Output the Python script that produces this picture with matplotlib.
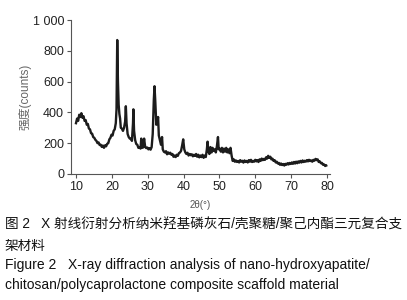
import matplotlib
matplotlib.use("Agg")
import matplotlib.pyplot as plt

# values
two_theta = [10.0, 10.3, 10.6, 10.9, 11.2, 11.5, 11.8, 12.1, 12.4, 12.7, 13.0, 13.3, 13.6, 13.9,
             14.2, 14.5, 14.8, 15.1, 15.4, 15.7, 16.0, 16.3, 16.6, 16.9, 17.2, 17.5, 17.8, 18.1,
             18.4, 18.7, 19.0, 19.3, 19.6, 19.9, 20.2, 20.5, 20.8, 21.1, 21.3, 21.5, 21.7, 21.9,
             22.1, 22.3, 22.5, 22.8, 23.1, 23.4, 23.7, 23.9, 24.1, 24.4, 24.7, 25.0, 25.3, 25.6,
             25.9, 26.0, 26.2, 26.5, 26.8, 27.1, 27.4, 27.7, 28.0, 28.2, 28.4, 28.7, 29.0, 29.3,
             29.6, 29.9, 30.2, 30.5, 30.8, 31.1, 31.4, 31.7, 31.9, 32.1, 32.4, 32.6, 32.9, 33.1,
             33.4, 33.7, 34.0, 34.2, 34.5, 34.8, 35.1, 35.4, 35.7, 36.0, 36.3, 36.6, 36.9, 37.2,
             37.5, 37.8, 38.1, 38.4, 38.7, 39.0, 39.3, 39.6, 39.9, 40.2, 40.5, 40.8, 41.1, 41.4,
             41.7, 42.0, 42.3, 42.6, 42.9, 43.2, 43.5, 43.8, 44.1, 44.4, 44.7, 45.0, 45.3, 45.6,
             45.9, 46.2, 46.5, 46.7, 46.9, 47.2, 47.5, 47.8, 48.1, 48.4, 48.7, 49.0, 49.3, 49.6,
             49.8, 50.1, 50.4, 50.7, 51.0, 51.3, 51.6, 51.9, 52.2, 52.5, 52.8, 53.1, 53.4, 53.7,
             54.0, 54.3, 54.6, 54.9, 55.2, 55.5, 55.8, 56.1, 56.4, 56.7, 57.0, 57.3, 57.6, 57.9,
             58.2, 58.5, 58.8, 59.1, 59.4, 59.7, 60.0, 60.3, 60.6, 60.9, 61.2, 61.5, 61.8, 62.1,
             62.4, 62.7, 63.0, 63.3, 63.6, 63.9, 64.2, 64.5, 64.8, 65.1, 65.4, 65.7, 66.0, 66.3,
             66.6, 66.9, 67.2, 67.5, 67.8, 68.1, 68.4, 68.7, 69.0, 69.3, 69.6, 69.9, 70.2, 70.5,
             70.8, 71.1, 71.4, 71.7, 72.0, 72.3, 72.6, 72.9, 73.2, 73.5, 73.8, 74.1, 74.4, 74.7,
             75.0, 75.3, 75.6, 75.9, 76.2, 76.5, 76.8, 77.1, 77.4, 77.7, 78.0, 78.3, 78.6, 78.9,
             79.2, 79.5, 79.8]
counts = [330, 360, 345, 385, 370, 395, 365, 375, 345, 350, 320, 325, 295, 290,
          265, 262, 240, 235, 222, 215, 200, 205, 188, 190, 176, 185, 170, 186,
          180, 196, 200, 225, 235, 255, 250, 280, 290, 330, 420, 870, 600, 450,
          390, 360, 300, 295, 280, 300, 340, 440, 330, 260, 240, 230, 230, 215,
          330, 420, 280, 220, 195, 190, 170, 175, 165, 230, 170, 172, 230, 175,
          168, 172, 160, 168, 158, 175, 260, 480, 570, 480, 320, 330, 370, 250,
          220, 190, 240, 160, 145, 140, 148, 128, 140, 132, 138, 125, 130, 112,
          120, 110, 125, 118, 135, 140, 150, 185, 225, 160, 140, 130, 138, 120,
          130, 122, 128, 115, 125, 118, 130, 112, 125, 108, 120, 110, 125, 105,
          120, 110, 160, 210, 150, 130, 175, 140, 170, 150, 160, 140, 180, 240,
          160, 165, 145, 170, 140, 165, 145, 170, 140, 160, 135, 170, 120, 85,
          95, 80, 88, 78, 85, 75, 90, 80, 86, 74, 88, 78, 85, 75,
          90, 80, 92, 78, 85, 80, 92, 82, 90, 78, 95, 85, 100, 90,
          98, 92, 108, 100, 118, 105, 112, 95, 100, 85, 90, 75, 80, 68,
          72, 60, 68, 58, 65, 55, 66, 60, 70, 62, 72, 65, 75, 66,
          78, 68, 80, 70, 82, 74, 85, 75, 88, 78, 86, 80, 90, 82,
          92, 84, 88, 80, 92, 86, 98, 90, 95, 78, 82, 70, 72, 60,
          62, 52, 55]

x_ticks = [10, 20, 30, 40, 50, 60, 70, 80]
y_ticks = [0, 200, 400, 600, 800, 1000]
y_tick_labels = ["0", "200", "400", "600", "800", "1 000"]

caption_cn_1 = "图 2   X 射线衍射分析纳米羟基磷灰石/壳聚糖/聚己内酯三元复合支"
caption_cn_2 = "架材料"
caption_en_1 = "Figure 2   X-ray diffraction analysis of nano-hydroxyapatite/"
caption_en_2 = "chitosan/polycaprolactone composite scaffold material"

plt.rcParams['font.family'] = ['Liberation Sans', 'Noto Sans CJK SC', 'DejaVu Sans']

fig = plt.figure(figsize=(4.07, 3.0), dpi=100)
ax = fig.add_axes([0.1744, 0.42, 0.636, 0.5133])

ax.plot(two_theta, counts, color='#1c1c1c', lw=1.7)

ax.set_xlim(8.6, 80.8)
ax.set_ylim(0, 1000)
ax.set_xticks(x_ticks)
ax.set_yticks(y_ticks)
ax.set_yticklabels(y_tick_labels)
ax.tick_params(labelsize=9, length=3, width=0.8, colors='#555555', labelcolor='#222222', pad=2)
for side in ['top', 'right']:
    ax.spines[side].set_visible(False)
for side in ['left', 'bottom']:
    ax.spines[side].set_color('#555555')
    ax.spines[side].set_linewidth(0.8)

ax.set_ylabel("强度(counts)", fontsize=8.5, color='#666666', labelpad=1)
ax.set_xlabel("2θ(°)", fontsize=7, color='#555555', labelpad=5)

fig.text(0.012, 0.25, caption_cn_1, fontsize=9.8, color='#111111', va='center')
fig.text(0.012, 0.18, caption_cn_2, fontsize=9.8, color='#111111', va='center')
fig.text(0.012, 0.117, caption_en_1, fontsize=10, color='#111111', va='center')
fig.text(0.012, 0.05, caption_en_2, fontsize=10, color='#111111', va='center')

fig.savefig("out.png", dpi=100)
